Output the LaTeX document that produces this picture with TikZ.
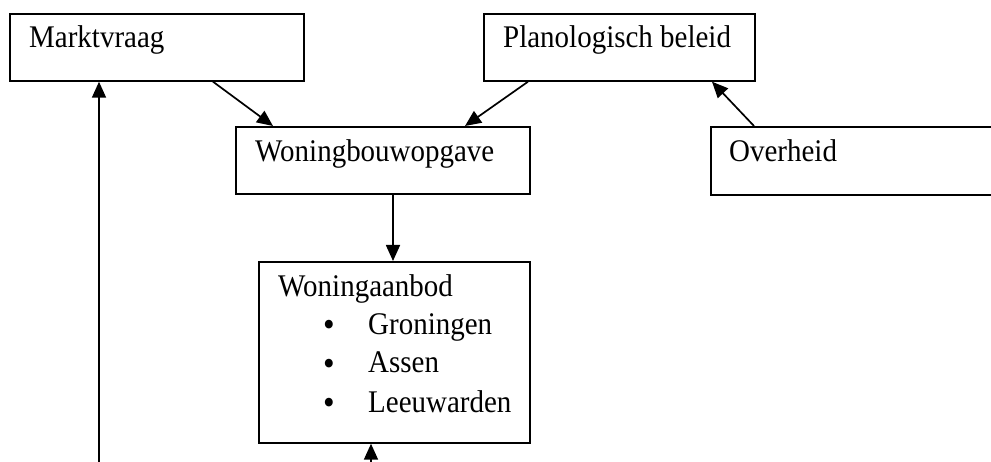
\documentclass[tikz,border=0pt]{standalone}
\usepackage{fontspec}
\setmainfont[FakeStretch=0.92]{Liberation Serif}
\usetikzlibrary{arrows.meta,calc}
\begin{document}
\begin{tikzpicture}[x=1pt,y=-1pt,
  box/.style={draw=black, line width=1.7pt, rectangle, anchor=north west, inner sep=0pt},
  lbl/.style={anchor=base west, inner sep=0pt, font=\fontsize{31.5}{35}\selectfont},
  bul/.style={anchor=base, inner sep=0pt, font=\fontsize{36}{35}\selectfont},
  conn/.style={line width=1.7pt, -{Triangle[length=16pt,width=14pt]}}]
\useasboundingbox[fill=white] (0,0) rectangle (991,462);
% boxes
\node[box, minimum width=294pt, minimum height=67pt] (mv) at (9,13) {};
\node[box, minimum width=271pt, minimum height=67pt] (pb) at (483,13) {};
\node[box, minimum width=294pt, minimum height=67pt] (wb) at (235,126) {};
\node[box, minimum width=290pt, minimum height=68pt] (ov) at (710,126) {};
\node[box, minimum width=271pt, minimum height=181pt] (wa) at (258,261) {};
% texts
\node[lbl] (tmv) at (29,48) {Marktvraag};
\node[lbl] (tpb) at (503,48) {Planologisch beleid};
\node[lbl] (twb) at (255,162) {Woningbouwopgave};
\node[lbl] (tov) at (729,162) {Overheid};
\node[lbl] (twa) at (278,297) {Woningaanbod};
\node[bul] (b1) at (329,337) {\textbullet};
\node[bul] (b2) at (329,375) {\textbullet};
\node[bul] (b3) at (329,414) {\textbullet};
\node[lbl] (g1) at (368,335) {Groningen};
\node[lbl] (g2) at (368,373) {Assen};
\node[lbl] (g3) at (368,412) {Leeuwarden};
% free ends
\coordinate (s1) at (99,462);
\coordinate (s2) at (371,462);
% connectors
\draw[conn] ($(mv.south west)+(204,0)$) -- ($(wb.north west)+(38,0)$);
\draw[conn] ($(pb.south west)+(45,0)$) -- ($(wb.north west)+(230,0)$);
\draw[conn] ($(ov.north west)+(44,0)$) -- ($(pb.south west)+(229,0)$);
\draw[conn] ($(wb.south west)+(158,0)$) -- ($(wa.north west)+(135,0)$);
\draw[conn] (s1) -- (s1 |- mv.south);
\draw[conn] (s2) -- (s2 |- wa.south);
\end{tikzpicture}
\end{document}
